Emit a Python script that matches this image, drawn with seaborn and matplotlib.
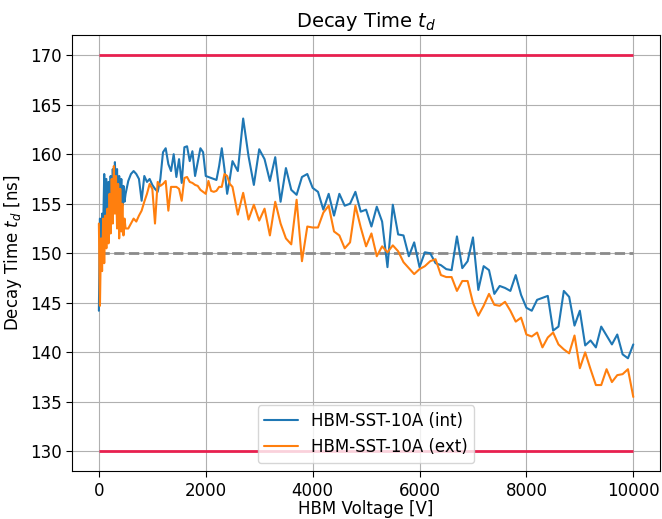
import matplotlib
matplotlib.use("Agg")
import matplotlib.pyplot as plt
import seaborn as sns
import pandas as pd

# ---- data ----
volt_low = [0, 20, 40, 60, 80, 100, 120, 140, 160, 180, 200, 220, 240, 260,
            280, 300, 320, 340, 360, 380, 400, 420, 440, 460, 480, 500]
volt_mid = [550, 600, 650, 700, 750, 800, 850, 900, 950, 1000,
            1050, 1100, 1150, 1200, 1250, 1300, 1350, 1400, 1450, 1500,
            1550, 1600, 1650, 1700, 1750, 1800, 1850, 1900, 1950, 2000,
            2050, 2100, 2150, 2200, 2250, 2300, 2350, 2400, 2450, 2500]
volt_high = [2600, 2700, 2800, 2900, 3000, 3100, 3200, 3300, 3400, 3500,
             3600, 3700, 3800, 3900, 4000, 4100, 4200, 4300, 4400, 4500,
             4600, 4700, 4800, 4900, 5000, 5100, 5200, 5300, 5400, 5500,
             5600, 5700, 5800, 5900, 6000, 6100, 6200, 6300, 6400, 6500,
             6600, 6700, 6800, 6900, 7000, 7100, 7200, 7300, 7400, 7500,
             7600, 7700, 7800, 7900, 8000, 8100, 8200, 8300, 8400, 8500,
             8600, 8700, 8800, 8900, 9000, 9100, 9200, 9300, 9400, 9500,
             9600, 9700, 9800, 9900, 10000]

int_low = [144.2, 153.5, 149.0, 154.0, 152.5, 158.0, 153.0, 157.5, 152.8, 157.2,
           154.0, 157.8, 153.2, 158.5, 154.5, 159.2, 155.0, 158.5, 154.2, 157.8,
           155.5, 157.5, 154.8, 156.8, 155.2, 156.0]
int_mid = [157.3, 158.0, 158.3, 158.0, 157.5, 155.3, 157.8, 157.2, 157.5, 156.9,
           156.5, 156.2, 157.5, 160.2, 160.6, 159.0, 158.3, 160.0, 157.7, 159.5,
           157.1, 160.7, 160.8, 159.3, 160.3, 157.8, 159.2, 160.6, 160.2, 157.8,
           157.7, 157.6, 157.5, 157.4, 158.8, 160.6, 158.5, 156.0, 157.5, 159.3]
int_high = [158.3, 163.6, 159.8, 156.9, 160.5, 159.5, 157.3, 159.7, 155.2, 158.6,
            156.4, 155.9, 157.7, 158.0, 156.6, 156.2, 154.4, 156.0, 153.8, 156.0,
            154.8, 155.0, 156.2, 154.2, 154.4, 152.7, 154.7, 153.2, 148.6, 154.9,
            151.9, 151.8, 149.7, 151.1, 148.6, 150.1, 150.0, 149.0, 148.8, 148.4,
            148.3, 151.7, 148.5, 149.2, 151.6, 146.3, 148.7, 148.3, 145.9, 146.7,
            146.5, 146.2, 147.8, 145.8, 144.5, 144.2, 145.3, 145.5, 145.7, 142.2,
            142.6, 146.2, 145.6, 142.7, 144.2, 140.7, 141.2, 140.5, 142.6, 141.7,
            140.8, 141.8, 139.8, 139.4, 140.8]

ext_low = [153.0, 144.7, 151.5, 148.2, 153.5, 149.0, 153.8, 150.5, 154.5, 151.0,
           156.0, 152.0, 157.5, 153.0, 158.8, 154.0, 157.8, 152.5, 157.0, 151.5,
           156.5, 152.2, 155.0, 151.8, 153.5, 152.5]
ext_mid = [152.5, 153.0, 153.5, 153.2, 153.8, 154.3, 155.2, 156.0, 157.0, 156.5,
           153.0, 157.2, 156.8, 157.0, 157.3, 154.3, 156.7, 156.7, 156.7, 156.5,
           155.3, 157.6, 157.7, 157.2, 157.1, 156.9, 156.8, 156.4, 156.2, 156.0,
           157.3, 156.3, 156.2, 156.3, 156.7, 156.7, 158.0, 157.8, 157.0, 156.7]
ext_high = [153.9, 156.1, 153.4, 154.9, 153.3, 154.5, 151.8, 155.2, 153.0, 151.5,
            150.9, 155.4, 149.2, 152.7, 152.6, 152.6, 154.1, 154.8, 152.2, 151.8,
            150.5, 151.1, 154.8, 152.6, 150.7, 152.0, 149.7, 150.7, 150.1, 150.8,
            150.2, 149.1, 148.5, 147.9, 148.4, 148.7, 149.2, 149.4, 147.8, 147.6,
            147.6, 146.2, 147.2, 147.2, 145.0, 143.7, 144.7, 145.9, 144.8, 144.7,
            145.1, 144.2, 143.1, 143.5, 141.8, 141.6, 142.0, 140.5, 141.5, 142.0,
            140.8, 140.3, 139.9, 141.7, 138.4, 140.0, 138.3, 136.7, 136.7, 138.3,
            137.0, 137.7, 137.8, 138.3, 135.5]

series_names = ["HBM-SST-10A (int)", "HBM-SST-10A (ext)"]
limit_upper = 170
limit_lower = 130
nominal = 150
x_range = [0, 10000]

volts = volt_low + volt_mid + volt_high
df = pd.concat([
    pd.DataFrame({"V": volts, "td": int_low + int_mid + int_high, "s": series_names[0]}),
    pd.DataFrame({"V": volts, "td": ext_low + ext_mid + ext_high, "s": series_names[1]}),
], ignore_index=True)

sns.set_style("ticks")
plt.rcParams["font.family"] = ["DejaVu Sans"]
plt.rcParams["font.size"] = 12
for key in ["text.color", "axes.labelcolor", "xtick.color", "ytick.color"]:
    plt.rcParams[key] = "black"

fig = plt.figure(figsize=(6.62, 5.19), dpi=100)
ax = fig.add_axes([0.109, 0.092, 0.888, 0.840])

ax.hlines([limit_upper, limit_lower], x_range[0], x_range[1],
          colors="#e8204f", linewidth=2, zorder=3)
ax.hlines(nominal, x_range[0], x_range[1], colors="#8a8a8a", linestyles="--",
          linewidth=2, zorder=2)

sns.lineplot(data=df, x="V", y="td", hue="s", hue_order=series_names,
             palette=["#1f77b4", "#ff7f0e"], linewidth=1.5, ax=ax,
             estimator=None, sort=False, zorder=4)

ax.grid(True, color="#b0b0b0", linewidth=0.8)
ax.set_axisbelow(True)
ax.set_xlim(-500, 10500)
ax.set_ylim(128, 172)
ax.set_xticks([0, 2000, 4000, 6000, 8000, 10000])
ax.set_yticks([130, 135, 140, 145, 150, 155, 160, 165, 170])
ax.tick_params(labelsize=12, length=4, width=0.8, color="black", labelcolor="black")
for sp in ax.spines.values():
    sp.set_visible(True)
    sp.set_color("black")
    sp.set_linewidth(0.8)

ax.set_title("Decay Time $t_d$", fontsize=14)
ax.set_xlabel("HBM Voltage [V]", fontsize=12, labelpad=0)
ax.set_ylabel("Decay Time $t_d$ [ns]", fontsize=12)
leg = ax.legend(loc="lower center", fontsize=12, title=None, framealpha=0.8)

fig.savefig("out.png", dpi=100)
